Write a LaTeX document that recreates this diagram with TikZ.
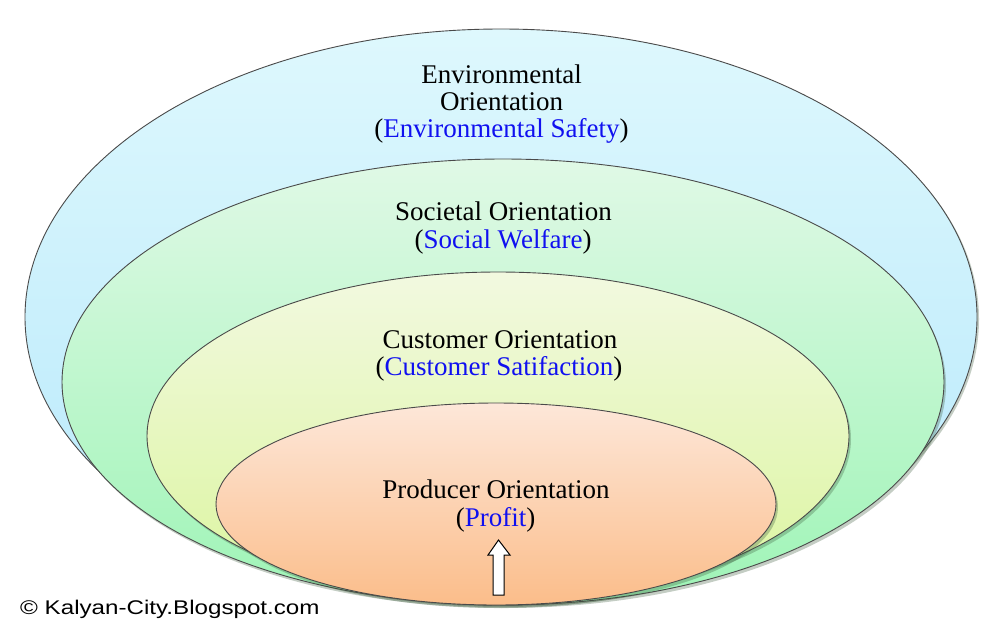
\documentclass[tikz,border=0pt]{standalone}
\usepackage{fontspec}
\newfontfamily\timesfont{LiberationSerif-Regular.ttf}
\newfontfamily\arialfont{Liberation Sans}
\usetikzlibrary{shapes.geometric}
\definecolor{edgegray}{HTML}{4A4A4A}
\definecolor{blueTop}{HTML}{DEF8FD}
\definecolor{blueBot}{HTML}{B6E8FB}
\definecolor{greenTop}{HTML}{E0F9E6}
\definecolor{greenBot}{HTML}{9EF4B6}
\definecolor{yellowTop}{HTML}{F2F9E0}
\definecolor{yellowBot}{HTML}{DBF59E}
\definecolor{orangeTop}{HTML}{FDE7D9}
\definecolor{orangeBot}{HTML}{FBBD8A}
\definecolor{labelblue}{HTML}{1010F0}
\definecolor{shadowcol}{HTML}{3A5A3A}
\tikzset{
  ring/.style={ellipse, draw=edgegray, line width=0.9pt, inner sep=0pt},
  ringshadow/.style={ellipse, fill=shadowcol, fill opacity=0.3, inner sep=0pt},
  title/.style={anchor=base, inner sep=0pt, font=\timesfont\fontsize{27}{27}\selectfont},
  sub/.style={title},
}
\begin{document}
\begin{tikzpicture}[x=1pt,y=-1pt]
\useasboundingbox (0,0) rectangle (1003,635);
% shadows
\node[ringshadow, minimum width=952pt, minimum height=576pt] (envsh) at (503,319) {};
% ellipses
\node[ring, top color=blueTop, bottom color=blueBot, minimum width=952pt, minimum height=576pt] (env) at (501,317) {};
\node[ringshadow, minimum width=882pt, minimum height=446pt] (socsh) at (505,385) {};
\node[ring, top color=greenTop, bottom color=greenBot, minimum width=882pt, minimum height=446pt] (soc) at (503,382) {};
\node[ringshadow, minimum width=702pt, minimum height=328pt] (custsh) at (500,439) {};
\node[ring, top color=yellowTop, bottom color=yellowBot, minimum width=702pt, minimum height=328pt] (cust) at (498,436) {};
\node[ringshadow, minimum width=560pt, minimum height=202pt] (prodsh) at (498,507) {};
\node[ring, top color=orangeTop, bottom color=orangeBot, minimum width=560pt, minimum height=202pt] (prod) at (496,504) {};
% texts
\node[title] (envA) at (501.5,83) {Environmental};
\node[title] (envB) at (501.5,110) {Orientation};
\node[sub] (envC) at (501.5,137) {(\textcolor{labelblue}{Environmental Safety})};
\node[title] (socA) at (503.5,220) {Societal Orientation};
\node[sub] (socB) at (503,248) {(\textcolor{labelblue}{Social Welfare})};
\node[title] (custA) at (500,348) {Customer Orientation};
\node[sub] (custB) at (499,375) {(\textcolor{labelblue}{Customer Satifaction})};
\node[title] (prodA) at (496,498) {Producer Orientation};
\node[sub] (prodB) at (495.5,526) {(\textcolor{labelblue}{Profit})};
% upward block arrow
\draw[fill=white, draw=black, line width=1pt, line join=miter]
  (493,595) -- (493,555) -- (488,555) -- (498.5,540) -- (510,555) -- (504,555) -- (504,595) -- cycle;
% copyright
\node[anchor=base west, inner sep=0pt, xscale=1.22, font=\arialfont\fontsize{19.8}{20}\selectfont] (copy) at (20,614) {© Kalyan-City.Blogspot.com};
\end{tikzpicture}
\end{document}
